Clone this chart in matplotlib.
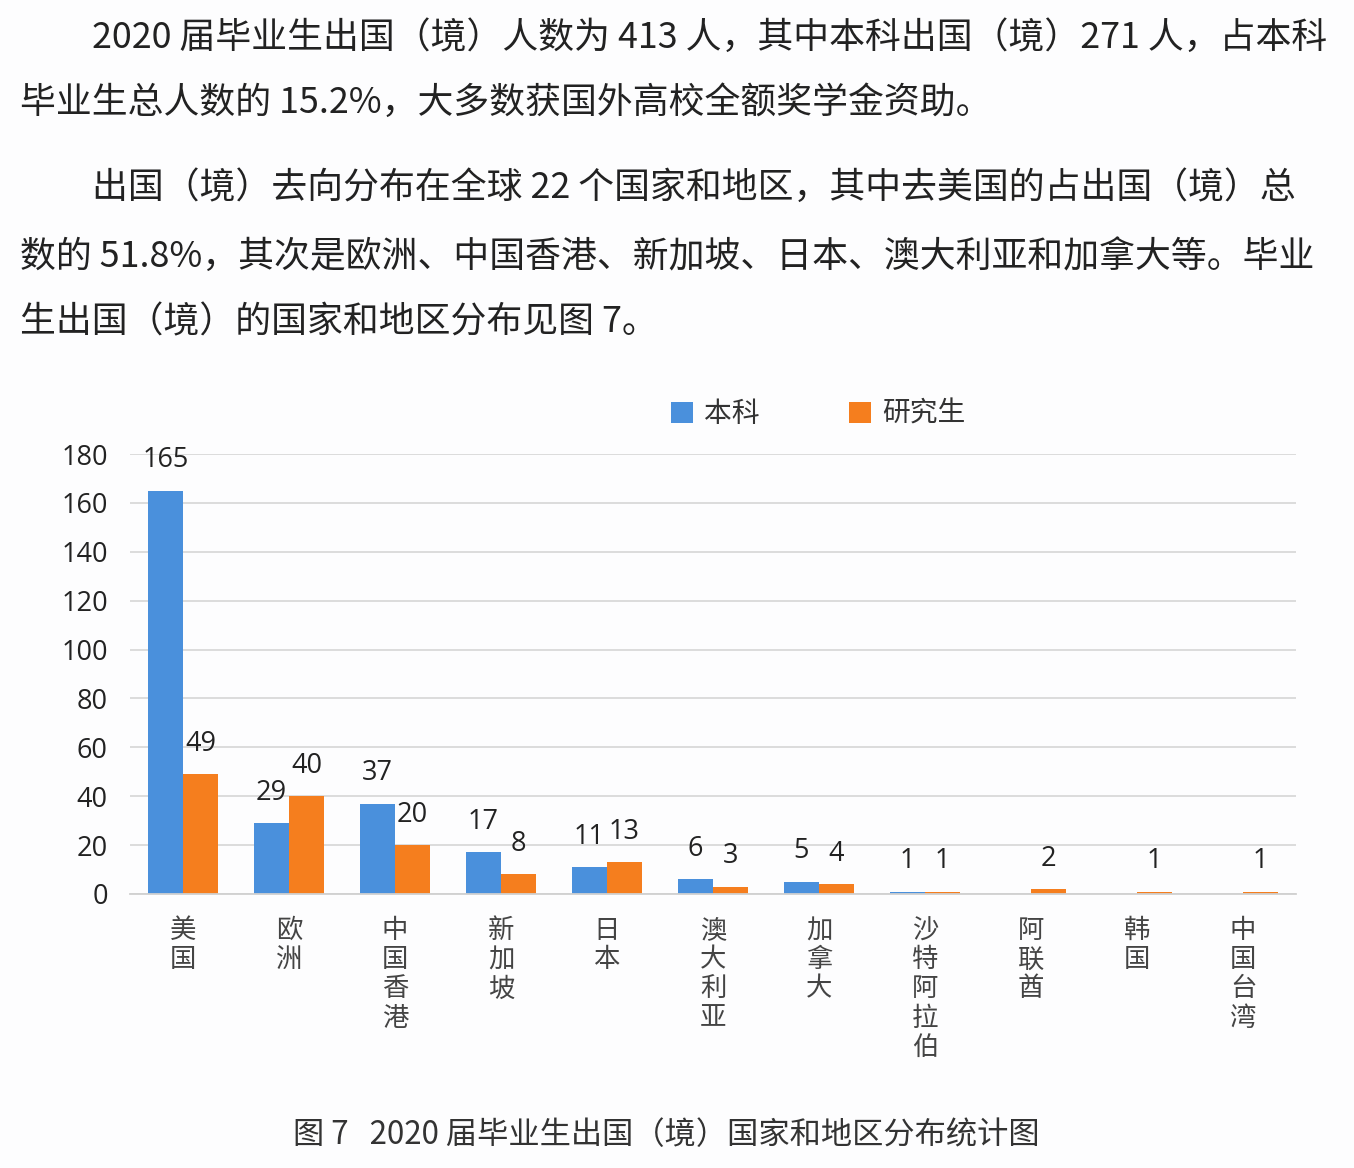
import matplotlib
matplotlib.use('Agg')
import matplotlib.pyplot as plt
import numpy as np

plt.rcParams['font.family'] = ['Noto Sans CJK SC', 'DejaVu Sans']

# Data
regions = ['美国', '欧洲', '中国香港', '新加坡', '日本', '澳大利亚', '加拿大',
           '沙特阿拉伯', '阿联酋', '韩国', '中国台湾']
undergrad = [165, 29, 37, 17, 11, 6, 5, 1, 0, 0, 0]
graduate = [49, 40, 20, 8, 13, 3, 4, 1, 2, 1, 1]
series_names = ['本科', '研究生']
yticks = [0, 20, 40, 60, 80, 100, 120, 140, 160, 180]

body_lines = [
    '2020 届毕业生出国（境）人数为 413 人，其中本科出国（境）271 人，占本科',
    '毕业生总人数的 15.2%，大多数获国外高校全额奖学金资助。',
    '出国（境）去向分布在全球 22 个国家和地区，其中去美国的占出国（境）总',
    '数的 51.8%，其次是欧洲、中国香港、新加坡、日本、澳大利亚和加拿大等。毕业',
    '生出国（境）的国家和地区分布见图 7。',
]
caption = '图 7   2020 届毕业生出国（境）国家和地区分布统计图'

blue = '#4A90DC'
orange = '#F57E1E'
W, H = 1354, 1168

fig = plt.figure(figsize=(W / 100, H / 100), dpi=100)
fig.patch.set_facecolor('#fdfdfe')

# paragraph text
line_pos = [(92, 38), (20, 103), (92, 188), (20, 257), (20, 322)]
for txt, (x, y) in zip(body_lines, line_pos):
    fig.text(x / W, 1 - y / H, txt, fontsize=25.8, color='#222222', va='center', ha='left')

ax = fig.add_axes([130 / W, 1 - 894 / H, (1296 - 130) / W, (894 - 454) / H])
ax.set_facecolor('none')

x = np.arange(len(regions))
w = 0.33
b1 = ax.bar(x - w / 2, undergrad, w, color=blue, label=series_names[0])
b2 = ax.bar(x + w / 2, graduate, w, color=orange, label=series_names[1])

num_font = ['Open Sans', 'DejaVu Sans']
for rect, v in zip(b1, undergrad):
    if v > 0:
        ax.annotate(str(v), (rect.get_x() + rect.get_width() / 2, v), xytext=(0, 22),
                    textcoords='offset points', ha='center', va='center',
                    fontsize=19.5, color='#222222', family=num_font)
for rect, v in zip(b2, graduate):
    ax.annotate(str(v), (rect.get_x() + rect.get_width() / 2, v), xytext=(0, 22),
                textcoords='offset points', ha='center', va='center',
                fontsize=19.5, color='#222222', family=num_font)

ax.set_xlim(-0.5, len(regions) - 0.5)
ax.set_ylim(0, 180)
ax.set_yticks(yticks)
ax.set_yticklabels([str(t) for t in yticks], fontsize=19.5, color='#222222',
                   family=num_font)
ax.tick_params(axis='y', length=0, pad=16)
ax.tick_params(axis='x', length=0)
ax.set_xticks([])
ax.yaxis.grid(True, color='#d9d9d9', linewidth=1.3)
ax.set_axisbelow(True)
for s in ['top', 'right', 'left']:
    ax.spines[s].set_visible(False)
ax.spines['bottom'].set_color('#d0d0d0')
ax.spines['bottom'].set_linewidth(1.3)

# vertical category labels
for xi, name in zip(x, regions):
    ax.text(xi, -9.5, '\n'.join(name), ha='center', va='top', fontsize=19,
            color='#444444', linespacing=1.1, transform=ax.transData)

leg = ax.legend(loc='center', bbox_to_anchor=(818 / W, 1 - 414 / H),
                bbox_transform=fig.transFigure, ncol=2, frameon=False,
                fontsize=20, handlelength=0.8, handleheight=0.8,
                columnspacing=3.2, handletextpad=0.4)
for t in leg.get_texts():
    t.set_color('#333333')

fig.text(293 / W, 1 - 1135 / H, caption, fontsize=22.5, color='#333333',
         va='center', ha='left')

fig.savefig('out.png', dpi=100, facecolor=fig.get_facecolor())
